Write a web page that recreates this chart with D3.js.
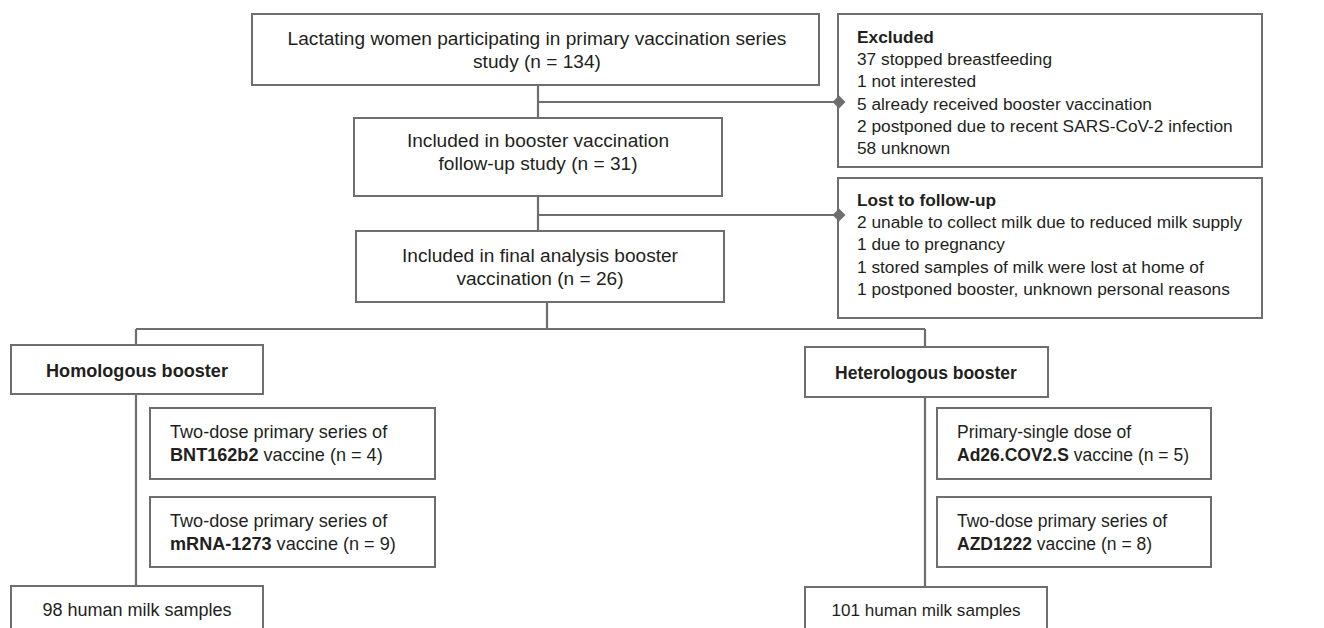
<!DOCTYPE html>
<html>
<head>
<meta charset="utf-8">
<script src="https://cdn.jsdelivr.net/npm/d3@7"></script>
<style>
  body { margin: 0; background: #fff; }
  svg text { font-family: "Liberation Sans", Arial, Helvetica, sans-serif; font-size: 17.3px; fill: #231f20; }
</style>
</head>
<body>
<div id="chart"></div>
<script>
// flow chart content
const flowSteps = [
  ["Lactating women participating in primary vaccination series", "study (n = 134)"],
  ["Included in booster vaccination", "follow-up study (n = 31)"],
  ["Included in final analysis booster", "vaccination (n = 26)"]
];
const excludedTitle = "Excluded";
const excludedReasons = [
  "37 stopped breastfeeding",
  "1 not interested",
  "5 already received booster vaccination",
  "2 postponed due to recent SARS-CoV-2 infection",
  "58 unknown"
];
const lostTitle = "Lost to follow-up";
const lostReasons = [
  "2 unable to collect milk due to reduced milk supply",
  "1 due to pregnancy",
  "1 stored samples of milk were lost at home of",
  "1 postponed booster, unknown personal reasons"
];
const boosterGroups = ["Homologous booster", "Heterologous booster"];
const homologousSeries = [
  ["Two-dose primary series of", "**BNT162b2** vaccine (n = 4)"],
  ["Two-dose primary series of", "**mRNA-1273** vaccine (n = 9)"]
];
const heterologousSeries = [
  ["Primary-single dose of", "**Ad26.COV2.S** vaccine (n = 5)"],
  ["Two-dose primary series of", "**AZD1222** vaccine (n = 8)"]
];
const milkSamples = [98, 101];

// layout
const W = 1324, H = 628;
const stroke = "#6e6e6e";
const lineH = 22.5;

const svg = d3.select("#chart")
  .append("svg")
  .attr("width", W)
  .attr("height", H);

const gLines = svg.append("g");
const gBoxes = svg.append("g");
const gMarks = svg.append("g");

const mainBoxes = [
  {x: 252, y: 14, w: 567, h: 71, cx: 537, base: 45},
  {x: 354, y: 118, w: 368, h: 78, cx: 538, base: 147},
  {x: 356, y: 231, w: 368, h: 71, cx: 540, base: 262}
];
const sideBoxes = [
  {x: 838, y: 14, w: 424, h: 153, tx: 857, base: 43, title: excludedTitle, rows: excludedReasons},
  {x: 838, y: 178, w: 424, h: 140, tx: 857, base: 206, title: lostTitle, rows: lostReasons}
];
const groupBoxes = [
  {x: 11, y: 345, w: 252, h: 49, cx: 137, base: 377, fs: 18.1},
  {x: 805, y: 347, w: 243, h: 50, cx: 926, base: 379, fs: 17.5}
];
const seriesBoxes = [
  {x: 150, w: 285, tx: 170, fs: 18.1, rows: homologousSeries},
  {x: 937, w: 274, tx: 957, fs: 17.5, rows: heterologousSeries}
];
const seriesY = [{y: 408, h: 71, base: 438}, {y: 497, h: 70, base: 527}];
const milkBoxes = [
  {x: 11, y: 586, w: 252, h: 70, cx: 137, base: 616, fs: 18},
  {x: 805, y: 587, w: 242, h: 70, cx: 926, base: 616, fs: 17.1}
];

function box(b) {
  gBoxes.append("rect")
    .attr("x", b.x).attr("y", b.y)
    .attr("width", b.w).attr("height", b.h)
    .attr("fill", "#fff")
    .attr("stroke", stroke)
    .attr("stroke-width", 2);
}

// rich text: **bold** segments
function richLine(sel, str) {
  str.split("**").forEach((part, i) => {
    if (!part) return;
    sel.append("tspan")
      .attr("font-weight", i % 2 ? "bold" : null)
      .text(part);
  });
}

function line(x1, y1, x2, y2) {
  gLines.append("line")
    .attr("x1", x1).attr("y1", y1)
    .attr("x2", x2).attr("y2", y2)
    .attr("stroke", stroke)
    .attr("stroke-width", 2.2);
}

// main column
flowSteps.forEach((lines, i) => {
  const b = mainBoxes[i];
  box(b);
  lines.forEach((t, j) => {
    gBoxes.append("text")
      .attr("x", b.cx).attr("y", b.base + j * lineH)
      .attr("text-anchor", "middle")
      .style("font-size", "19.1px")
      .text(t);
  });
});

// excluded / lost boxes
sideBoxes.forEach(b => {
  box(b);
  gBoxes.append("text")
    .attr("x", b.tx).attr("y", b.base)
    .attr("font-weight", "bold")
    .text(b.title);
  gBoxes.selectAll(null)
    .data(b.rows)
    .join("text")
    .attr("x", b.tx)
    .attr("y", (d, j) => b.base + (j + 1) * 22.2)
    .text(d => d);
});

// connectors
line(538, 85, 538, 118);
line(538, 196, 538, 231);
[102, 215].forEach(y => {
  line(538, y, 839, y);
  gMarks.append("path")
    .attr("d", d3.symbol(d3.symbolSquare, 84)())
    .attr("transform", `translate(839,${y}) rotate(45)`)
    .attr("fill", stroke);
});
line(547, 302, 547, 329);
line(136, 329, 925, 329);
line(136, 329, 136, 586);
line(925, 329, 925, 587);

// booster groups
boosterGroups.forEach((g, i) => {
  const b = groupBoxes[i];
  box(b);
  gBoxes.append("text")
    .attr("x", b.cx).attr("y", b.base)
    .attr("text-anchor", "middle")
    .attr("font-weight", "bold")
    .style("font-size", b.fs + "px")
    .text(g);

  const s = seriesBoxes[i];
  s.rows.forEach((rows, k) => {
    const r = seriesY[k];
    box({x: s.x, y: r.y, w: s.w, h: r.h});
    rows.forEach((t, j) => {
      richLine(gBoxes.append("text")
        .attr("x", s.tx).attr("y", r.base + j * lineH)
        .style("font-size", s.fs + "px"), t);
    });
  });

  const m = milkBoxes[i];
  box(m);
  gBoxes.append("text")
    .attr("x", m.cx).attr("y", m.base)
    .attr("text-anchor", "middle")
    .style("font-size", m.fs + "px")
    .text(`${milkSamples[i]} human milk samples`);
});
</script>
</body>
</html>
